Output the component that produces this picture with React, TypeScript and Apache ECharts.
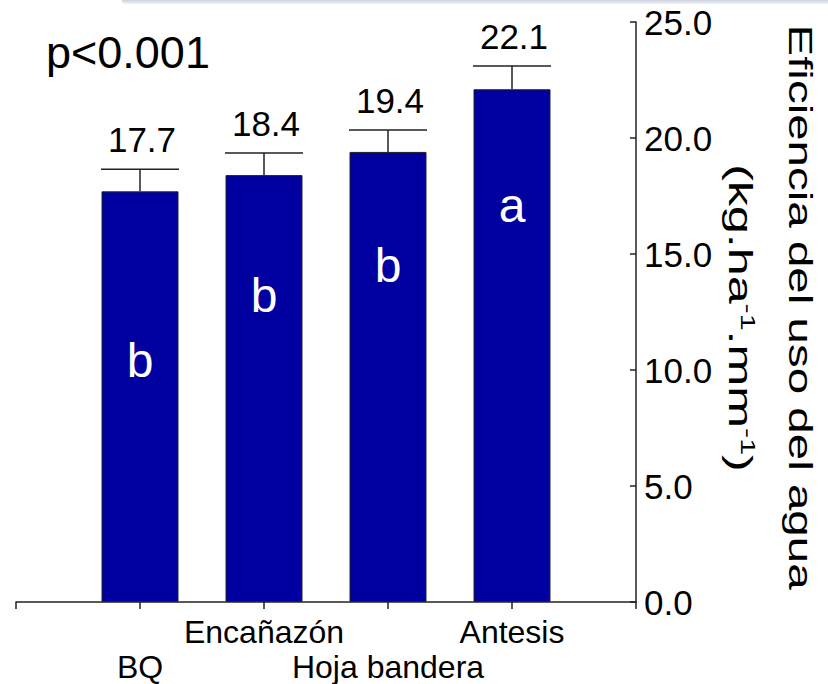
import React, { useEffect, useRef } from 'react';
import * as echarts from 'echarts';

const categories = ['BQ', 'Encañazón', 'Hoja bandera', 'Antesis'];
const values = [17.7, 18.4, 19.4, 22.1];
const errors = [0.95, 0.95, 0.95, 1.0];
const letters = ['b', 'b', 'b', 'a'];
const letterY = [10.4, 13.2, 14.5, 17.1];
const yMin = 0;
const yMax = 25;
const yInterval = 5;
const pText = 'p<0.001';
const yTitle1 = 'Eficiencia del uso del agua';
const yTitle2 = '(kg.ha{sup|-1}.mm{sup|-1})';

const FONT = '"Liberation Sans", Arial, Helvetica, sans-serif';

export default function App() {
  const ref = useRef<HTMLDivElement>(null);

  useEffect(() => {
    if (!ref.current) return;
    const chart = echarts.init(ref.current, undefined, { renderer: 'svg' });

    const axisCats = ['', ...categories, ''];
    const barData: any[] = ['-', ...values, '-'];
    const errData = categories.map((_, i) => [i + 1, values[i], errors[i]]);
    const letterData = categories.map((_, i) => [i + 1, letterY[i]]);

    const option: any = {
      animation: false,
      backgroundColor: '#ffffff',
      textStyle: { fontFamily: FONT },
      grid: { left: 16, right: 192, top: 22, bottom: 71, containLabel: false },
      xAxis: {
        type: 'category',
        data: axisCats,
        boundaryGap: false,
        axisLine: { show: true, lineStyle: { color: '#222', width: 1.5 } },
        axisTick: { show: true, interval: 0, length: 7, lineStyle: { color: '#222', width: 1.5 } },
        axisLabel: {
          interval: 0,
          margin: 12,
          fontSize: 32,
          lineHeight: 35,
          color: '#000',
          fontFamily: FONT,
          verticalAlign: 'top',
          formatter: (v: string, idx: number) => (idx % 2 === 1 ? '\n' + v : v),
        },
        splitLine: { show: false },
      },
      yAxis: {
        type: 'value',
        position: 'right',
        min: yMin,
        max: yMax,
        interval: yInterval,
        axisLine: { show: true, lineStyle: { color: '#222', width: 1.5 } },
        axisTick: { show: true, inside: true, length: 6, lineStyle: { color: '#222', width: 1.5 } },
        axisLabel: {
          margin: 8,
          fontSize: 35,
          color: '#000',
          fontFamily: FONT,
          formatter: (v: number) => v.toFixed(1),
        },
        splitLine: { show: false },
      },
      series: [
        {
          type: 'bar',
          data: barData,
          barWidth: 77,
          itemStyle: { color: '#0000A0', borderColor: '#222', borderWidth: 1 },
          z: 2,
        },
        {
          type: 'custom',
          data: errData,
          z: 3,
          renderItem: (params: any, api: any) => {
            const x = api.value(0);
            const v = api.value(1);
            const e = api.value(2);
            const base = api.coord([x, v]);
            const top = api.coord([x, v + e]);
            const hw = 39;
            const ls = { stroke: '#222', lineWidth: 1.5 };
            return {
              type: 'group',
              children: [
                { type: 'line', shape: { x1: base[0], y1: base[1], x2: top[0], y2: top[1] }, style: ls },
                { type: 'line', shape: { x1: top[0] - hw, y1: top[1], x2: top[0] + hw, y2: top[1] }, style: ls },
                {
                  type: 'text',
                  x: top[0] + 2,
                  y: top[1] - 12,
                  style: {
                    text: values[params.dataIndex].toFixed(1),
                    fontSize: 35,
                    fontFamily: FONT,
                    fill: '#000',
                    align: 'center',
                    verticalAlign: 'bottom',
                  },
                },
              ],
            };
          },
        },
        {
          type: 'custom',
          data: letterData,
          z: 4,
          renderItem: (params: any, api: any) => {
            const p = api.coord([api.value(0), api.value(1)]);
            return {
              type: 'text',
              x: p[0],
              y: p[1],
              style: {
                text: letters[params.dataIndex],
                fontSize: 48,
                fontFamily: FONT,
                fill: '#ffffff',
                align: 'center',
                verticalAlign: 'middle',
              },
            };
          },
        },
      ],
      graphic: [
        {
          type: 'rect',
          left: 122,
          top: -3,
          shape: { width: 720, height: 7, r: 3 },
          style: {
            fill: new echarts.graphic.LinearGradient(0, 0, 0, 1, [
              { offset: 0, color: '#aeb8cc' },
              { offset: 1, color: '#f0f2f7' },
            ]),
          },
          silent: true,
        },
        {
          type: 'text',
          x: 46,
          y: 52,
          style: {
            text: pText,
            fontSize: 45,
            fontFamily: FONT,
            fill: '#000',
            align: 'left',
            verticalAlign: 'middle',
          },
        },
        {
          type: 'text',
          x: 800,
          y: 307,
          rotation: -Math.PI / 2,
          scaleX: 1.44,
          scaleY: 1,
          style: {
            text: yTitle1,
            fontSize: 33,
            fontFamily: FONT,
            fill: '#000',
            align: 'center',
            verticalAlign: 'middle',
          },
        },
        {
          type: 'text',
          x: 740,
          y: 318,
          rotation: -Math.PI / 2,
          scaleX: 1.52,
          scaleY: 1,
          style: {
            text: yTitle2,
            fontSize: 33,
            fontFamily: FONT,
            fill: '#000',
            align: 'center',
            verticalAlign: 'middle',
            rich: {
              sup: { fontSize: 20, fontFamily: FONT, fill: '#000', verticalAlign: 'top', lineHeight: 36 },
            },
          },
        },
      ],
    };

    chart.setOption(option);
    return () => chart.dispose();
  }, []);

  return (
    <div
      ref={ref}
      style={{ position: 'fixed', left: 0, top: 0, width: 828, height: 684, background: '#fff' }}
    />
  );
}
